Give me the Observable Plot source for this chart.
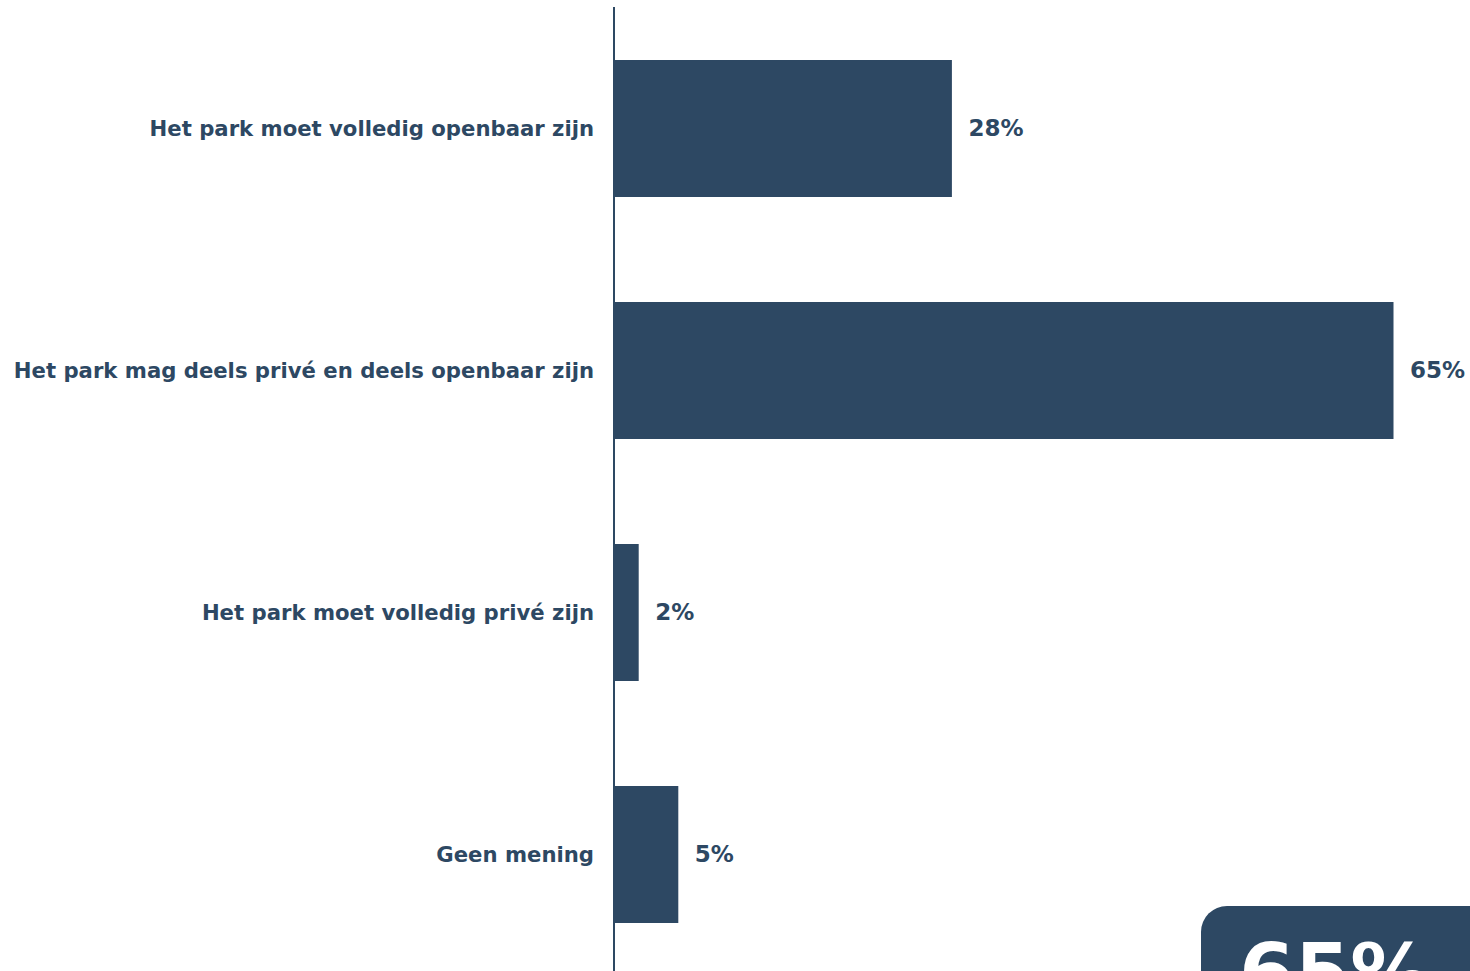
<!DOCTYPE html>
<html>
<head>
<meta charset="utf-8">
<script src="https://cdn.jsdelivr.net/npm/d3@7"></script>
<script src="https://cdn.jsdelivr.net/npm/@observablehq/plot@0.6"></script>
<style>
  html, body { margin: 0; padding: 0; background: #fff; overflow: hidden; width: 1470px; height: 971px; }
  #chart { position: absolute; left: 0; top: 0; }
  #badge {
    position: absolute; left: 1201px; top: 906px; width: 320px; height: 160px;
    background: #2d4863; border-radius: 26px; color: #fff;
    font-family: "DejaVu Sans", sans-serif; font-weight: bold; font-size: 80px;
    line-height: 80px; padding: 28px 0 0 38px; box-sizing: border-box;
  }
</style>
</head>
<body>
<div id="chart"></div>
<div id="badge">65%</div>
<script>
const categories = [
  "Het park moet volledig openbaar zijn",
  "Het park mag deels privé en deels openbaar zijn",
  "Het park moet volledig privé zijn",
  "Geen mening"
];
const values = [28.2, 65, 2.1, 5.4];
const valueLabels = ["28%", "65%", "2%", "5%"];

const color = "#2d4863";
const data = categories.map((c, i) => ({category: c, value: values[i], label: valueLabels[i]}));

const chart = Plot.plot({
  width: 1470,
  height: 976,
  marginLeft: 613.5,
  marginRight: 76.5,
  marginTop: 7,
  marginBottom: 0,
  style: {fontFamily: "DejaVu Sans, sans-serif", fontWeight: "bold", color: color, background: "#fff"},
  x: {domain: [0, 65], axis: null},
  y: {domain: categories, paddingInner: 0.434, paddingOuter: 0.219, label: null},
  marks: [
    Plot.barX(data, {x: "value", y: "category", fill: color}),
    Plot.ruleX([0], {stroke: color, strokeWidth: 2}),
    Plot.text(data, {x: "value", y: "category", text: "label", textAnchor: "start", dx: 16, fill: color, fontSize: 23, fontWeight: "bold"}),
    Plot.axisY({tickSize: 0, tickPadding: 20, fontSize: 21.2, fontWeight: "bold", fill: color, label: null})
  ]
});
document.getElementById("chart").appendChild(chart);
</script>
</body>
</html>
